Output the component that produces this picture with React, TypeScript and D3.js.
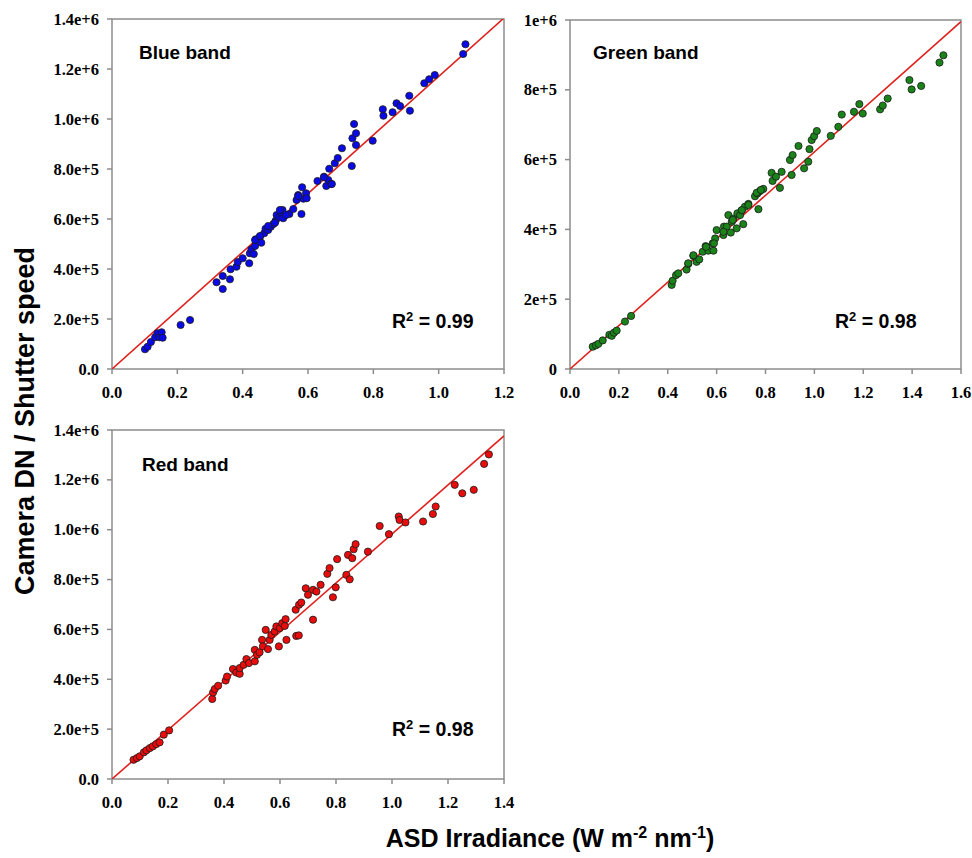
import React from "react";
import * as d3 from "d3";

// ---------- data ----------
const blueTicksX = [0, 0.2, 0.4, 0.6, 0.8, 1.0, 1.2];
const blueTicksY = [0, 200000, 400000, 600000, 800000, 1000000, 1200000, 1400000];
const greenTicksX = [0, 0.2, 0.4, 0.6, 0.8, 1.0, 1.2, 1.4, 1.6];
const greenTicksY = [0, 200000, 400000, 600000, 800000, 1000000];
const redTicksX = [0, 0.2, 0.4, 0.6, 0.8, 1.0, 1.2, 1.4];
const redTicksY = [0, 200000, 400000, 600000, 800000, 1000000, 1200000, 1400000];

const blueLabelsY = ["0.0", "2.0e+5", "4.0e+5", "6.0e+5", "8.0e+5", "1.0e+6", "1.2e+6", "1.4e+6"];
const greenLabelsY = ["0", "2e+5", "4e+5", "6e+5", "8e+5", "1e+6"];
const redLabelsY = ["0.0", "2.0e+5", "4.0e+5", "6.0e+5", "8.0e+5", "1.0e+6", "1.2e+6", "1.4e+6"];

const bluePoints: [number, number][] = [
  [0.101, 79000], [0.109, 89000], [0.119, 108000], [0.132, 127000], [0.139, 143000], [0.145, 127000],
  [0.152, 147000], [0.155, 125000], [0.210, 176000], [0.239, 196000],
  [0.320, 347000], [0.339, 372000], [0.339, 320000], [0.361, 359000], [0.363, 399000], [0.381, 409000],
  [0.385, 428000], [0.400, 443000], [0.420, 423000], [0.422, 463000], [0.427, 479000], [0.434, 460000],
  [0.438, 492000], [0.440, 519000], [0.453, 529000], [0.457, 505000], [0.466, 543000], [0.470, 561000],
  [0.478, 556000], [0.486, 569000], [0.494, 580000], [0.501, 593000], [0.504, 616000], [0.512, 607000],
  [0.519, 623000], [0.522, 636000], [0.524, 603000], [0.543, 620000], [0.555, 640000], [0.565, 676000],
  [0.570, 696000], [0.580, 620000], [0.582, 727000], [0.586, 681000], [0.594, 703000], [0.629, 752000],
  [0.649, 769000], [0.656, 732000], [0.662, 756000], [0.665, 801000], [0.671, 740000], [0.682, 823000],
  [0.691, 844000], [0.704, 883000], [0.734, 812000], [0.736, 923000], [0.741, 980000], [0.747, 943000],
  [0.747, 896000], [0.798, 913000], [0.829, 1039000], [0.831, 1013000], [0.859, 1027000], [0.871, 1063000],
  [0.882, 1052000], [0.910, 1093000], [0.912, 1033000], [0.956, 1143000], [0.971, 1159000], [0.988, 1176000],
  [1.075, 1260000], [1.082, 1299000],
  [0.438, 516000], [0.453, 532000], [0.478, 572000], [0.499, 585000], [0.514, 636000], [0.533, 616000],
  [0.570, 692000], [0.596, 683000], [0.649, 767000], [0.673, 740000],
];

const greenPoints: [number, number][] = [
  [0.093, 64000], [0.106, 68000], [0.116, 72000], [0.134, 82000], [0.161, 98000], [0.171, 95000],
  [0.180, 104000], [0.191, 110000], [0.225, 136000], [0.250, 152000],
  [0.416, 241000], [0.420, 253000], [0.434, 269000], [0.443, 274000], [0.477, 285000], [0.484, 301000],
  [0.505, 324000], [0.518, 307000], [0.529, 314000], [0.543, 336000], [0.555, 352000], [0.566, 339000],
  [0.587, 339000], [0.584, 360000], [0.594, 374000], [0.600, 398000], [0.628, 384000], [0.630, 408000],
  [0.641, 408000], [0.648, 441000], [0.658, 391000], [0.662, 422000], [0.669, 431000], [0.682, 403000],
  [0.685, 446000], [0.696, 441000], [0.703, 455000], [0.709, 415000], [0.716, 465000], [0.730, 473000],
  [0.757, 495000], [0.767, 503000], [0.771, 458000], [0.778, 510000], [0.791, 516000], [0.825, 562000],
  [0.829, 539000], [0.843, 551000], [0.859, 519000], [0.866, 565000], [0.907, 556000], [0.900, 599000],
  [0.911, 613000], [0.935, 639000], [0.958, 575000], [0.975, 594000], [0.980, 630000], [0.989, 656000],
  [0.999, 667000], [1.010, 682000], [1.067, 668000], [1.098, 694000], [1.112, 729000], [1.162, 737000],
  [1.184, 759000], [1.198, 732000], [1.269, 744000], [1.280, 755000], [1.300, 775000], [1.389, 828000],
  [1.398, 801000], [1.437, 811000], [1.512, 878000], [1.528, 899000],
  [0.484, 303000], [0.505, 326000], [0.557, 350000], [0.589, 360000], [0.628, 393000], [0.666, 427000],
  [0.703, 455000], [0.730, 470000], [0.764, 505000], [0.781, 513000],
];

const redPoints: [number, number][] = [
  [0.077, 77000], [0.089, 84000], [0.099, 91000], [0.114, 107000], [0.123, 115000], [0.135, 124000],
  [0.146, 131000], [0.158, 140000], [0.170, 147000], [0.185, 178000], [0.204, 195000],
  [0.358, 321000], [0.361, 347000], [0.367, 361000], [0.379, 374000], [0.406, 395000], [0.411, 411000],
  [0.432, 441000], [0.444, 427000], [0.456, 422000], [0.456, 445000], [0.470, 458000], [0.480, 481000],
  [0.489, 465000], [0.510, 472000], [0.510, 518000], [0.518, 498000], [0.527, 508000], [0.536, 558000],
  [0.539, 532000], [0.549, 598000], [0.557, 521000], [0.563, 558000], [0.569, 578000], [0.581, 592000],
  [0.587, 612000], [0.596, 532000], [0.599, 605000], [0.608, 625000], [0.617, 614000], [0.620, 641000],
  [0.623, 558000], [0.656, 679000], [0.658, 574000], [0.667, 576000], [0.668, 699000], [0.676, 708000],
  [0.692, 765000], [0.700, 739000], [0.718, 759000], [0.718, 639000], [0.730, 752000], [0.745, 779000],
  [0.769, 823000], [0.777, 846000], [0.789, 729000], [0.799, 769000], [0.804, 882000], [0.837, 819000],
  [0.843, 899000], [0.849, 801000], [0.858, 886000], [0.863, 922000], [0.870, 942000], [0.914, 912000],
  [0.956, 1015000], [0.989, 982000], [1.024, 1053000], [1.027, 1039000], [1.048, 1029000], [1.111, 1033000],
  [1.146, 1063000], [1.156, 1093000], [1.224, 1180000], [1.251, 1146000], [1.292, 1160000], [1.329, 1264000],
  [1.346, 1302000],
];

const fitSlopes = { blue: 1170000, green: 622000, red: 983000 };

// ---------- drawing ----------
const AXIS = "#8c8c8c";
const SERIF = "'Liberation Serif', 'Times New Roman', serif";
const SANS = "'Liberation Sans', Arial, sans-serif";

type PanelProps = {
  id: string;
  left: number; right: number; top: number; bottom: number;
  xMax: number; yMax: number;
  ticksX: number[]; ticksY: number[]; labelsY: string[];
  points: [number, number][];
  fill: string;
  slope: number;
  title: string; titleX: number; titleY: number;
  r2: string; r2X: number; r2Y: number;
};

function Panel(p: PanelProps) {
  const x = d3.scaleLinear().domain([0, p.xMax]).range([p.left, p.right]);
  const y = d3.scaleLinear().domain([0, p.yMax]).range([p.bottom, p.top]);
  const line = d3.line<[number, number]>().x((d) => x(d[0])).y((d) => y(d[1]));
  const fit: [number, number][] = [[0, 0], [p.xMax, p.slope * p.xMax]];
  return (
    <g>
      <defs>
        <clipPath id={"clip-" + p.id}>
          <rect x={p.left} y={p.top} width={p.right - p.left} height={p.bottom - p.top} />
        </clipPath>
      </defs>
      <rect x={p.left} y={p.top} width={p.right - p.left} height={p.bottom - p.top}
        fill="white" stroke={AXIS} strokeWidth={1.5} />
      {p.ticksX.map((t) => (
        <g key={"x" + t}>
          <line x1={x(t)} x2={x(t)} y1={p.bottom} y2={p.bottom + 5} stroke={AXIS} strokeWidth={1.5} />
          <text x={x(t)} y={p.bottom + 29} textAnchor="middle" fontFamily={SERIF} fontWeight="bold" fontSize={16.5}>
            {t.toFixed(1)}
          </text>
        </g>
      ))}
      {p.ticksY.map((t, i) => (
        <g key={"y" + t}>
          <line x1={p.left - 5} x2={p.left} y1={y(t)} y2={y(t)} stroke={AXIS} strokeWidth={1.5} />
          <text x={p.left - 13} y={y(t) + 5.5} textAnchor="end" fontFamily={SERIF} fontWeight="bold" fontSize={16.5}>
            {p.labelsY[i]}
          </text>
        </g>
      ))}
      <g clipPath={`url(#clip-${p.id})`}>
        <path d={line(fit) || ""} stroke="#e0201c" strokeWidth={1.6} fill="none" />
      </g>
      {p.points.map((d, i) => (
        <circle key={i} cx={x(d[0])} cy={y(d[1])} r={3.6} fill={p.fill} stroke="#1a1a1a" strokeWidth={0.8} />
      ))}
      <text x={p.titleX} y={p.titleY} fontFamily={SANS} fontWeight="bold" fontSize={19}>{p.title}</text>
      <text x={p.r2X} y={p.r2Y} fontFamily={SANS} fontWeight="bold" fontSize={19.5}>
        R<tspan dy={-7.5} fontSize={13}>2</tspan><tspan dy={7.5}> = {p.r2}</tspan>
      </text>
    </g>
  );
}

export default function App() {
  return (
    <svg width={972} height={858} style={{ position: "absolute", left: 0, top: 0, background: "white" }}>
      <rect width={972} height={858} fill="white" />
      <Panel id="blue" left={112} right={504} top={19} bottom={369} xMax={1.2} yMax={1400000}
        ticksX={blueTicksX} ticksY={blueTicksY} labelsY={blueLabelsY} points={bluePoints}
        fill="#0a0ae6" slope={fitSlopes.blue}
        title="Blue band" titleX={139} titleY={59} r2="0.99" r2X={392} r2Y={328} />
      <Panel id="green" left={570} right={961} top={20} bottom={369} xMax={1.6} yMax={1000000}
        ticksX={greenTicksX} ticksY={greenTicksY} labelsY={greenLabelsY} points={greenPoints}
        fill="#1a841a" slope={fitSlopes.green}
        title="Green band" titleX={593} titleY={59} r2="0.98" r2X={835} r2Y={328} />
      <Panel id="red" left={112} right={504} top={430} bottom={779} xMax={1.4} yMax={1400000}
        ticksX={redTicksX} ticksY={redTicksY} labelsY={redLabelsY} points={redPoints}
        fill="#e80c0c" slope={fitSlopes.red}
        title="Red band" titleX={142} titleY={471} r2="0.98" r2X={392} r2Y={736} />
      <text transform="translate(34,421) rotate(-90)" textAnchor="middle" fontFamily={SANS}
        fontWeight="bold" fontSize={27}>Camera DN / Shutter speed</text>
      <text x={550} y={847} textAnchor="middle" fontFamily={SANS} fontWeight="bold" fontSize={25}>
        ASD Irradiance (W m<tspan dy={-9} fontSize={16}>-2</tspan><tspan dy={9}> nm</tspan>
        <tspan dy={-9} fontSize={16}>-1</tspan><tspan dy={9}>)</tspan>
      </text>
    </svg>
  );
}
